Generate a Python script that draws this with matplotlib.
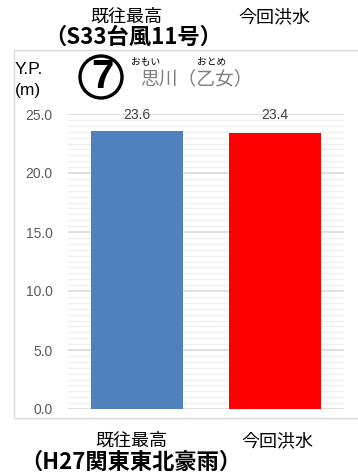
import matplotlib
matplotlib.use("Agg")
import matplotlib.pyplot as plt
from matplotlib.patches import Rectangle, Ellipse
from matplotlib.ticker import MultipleLocator

plt.rcParams['font.family'] = ['Noto Sans CJK JP', 'DejaVu Sans']

categories = ['既往最高', '今回洪水']
values = [23.6, 23.4]
colors = ['#4F81BD', '#FF0000']
yticks = [0, 5, 10, 15, 20, 25]
top_sub = '（S33台風11号）'
bottom_sub = '（H27関東東北豪雨）'

W, H = 358, 474
fig = plt.figure(figsize=(W/100, H/100), dpi=100)

def fx(px): return px / W
def fy(py): return 1 - py / H

# chart border
fig.patches.append(Rectangle((fx(14), fy(418)), fx(362) - fx(14), fy(50) - fy(418),
                             transform=fig.transFigure, fill=False, edgecolor='#D9D9D9', lw=1.0))

ax = fig.add_axes([fx(68), fy(409), fx(344) - fx(68), fy(114) - fy(409)])
x = [0, 1]
ax.bar(x, values, width=0.667, color=colors, zorder=3)
ax.set_xlim(-0.5, 1.5)
ax.set_ylim(0, 25)
ax.yaxis.set_minor_locator(MultipleLocator(0.5))
ax.set_yticks(yticks)
ax.set_yticklabels([f'{v:.1f}' for v in yticks], color='#595959', fontsize=10,
                   family=['Liberation Sans'])
ax.grid(axis='y', which='major', color='#D9D9D9', lw=1.2, zorder=0)
ax.grid(axis='y', which='minor', color='#EFEFEF', lw=1.0, zorder=0)
ax.tick_params(axis='y', which='both', length=0, pad=11)
ax.tick_params(axis='x', length=0, labelbottom=False)
for s in ax.spines.values():
    s.set_visible(False)

for xi, v in zip(x, values):
    ax.text(xi, 24.9, f'{v:.1f}', ha='center', va='center', fontsize=10, color='#404040',
            family=['Liberation Sans'], clip_on=False, zorder=4)

# top labels
fig.text(fx(126), fy(17), categories[0], ha='center', va='center', fontsize=13)
fig.text(fx(274), fy(17), categories[1], ha='center', va='center', fontsize=13)
fig.text(fx(133), fy(37), top_sub, ha='center', va='center', fontsize=16, fontweight='bold')

# bottom labels
fig.text(fx(131), fy(441), categories[0], ha='center', va='center', fontsize=13)
fig.text(fx(277), fy(441), categories[1], ha='center', va='center', fontsize=13)
fig.text(fx(131), fy(462), bottom_sub, ha='center', va='center', fontsize=16, fontweight='bold')

# y axis title
fig.text(fx(15), fy(70), 'Y.P.', ha='left', va='center', fontsize=12.5, family=['Liberation Sans'])
fig.text(fx(15), fy(91), '(m)', ha='left', va='center', fontsize=12.5, family=['Liberation Sans'])

# station marker (circled 7)
fig.patches.append(Ellipse((fx(101), fy(77)), 42 / W, 42 / H, transform=fig.transFigure,
                           fill=False, edgecolor='black', lw=2.4))
fig.text(fx(102), fy(77.5), '7', ha='center', va='center', fontsize=29, fontweight='bold',
         family=['Liberation Sans'])
fig.text(fx(140), fy(79), '思川（乙女）', ha='left', va='center', fontsize=13.5, color='#7F7F7F')
fig.text(fx(146), fy(61), 'おもい', ha='center', va='center', fontsize=7)
fig.text(fx(212), fy(61), 'おとめ', ha='center', va='center', fontsize=7)

fig.savefig('out.png', dpi=100)
